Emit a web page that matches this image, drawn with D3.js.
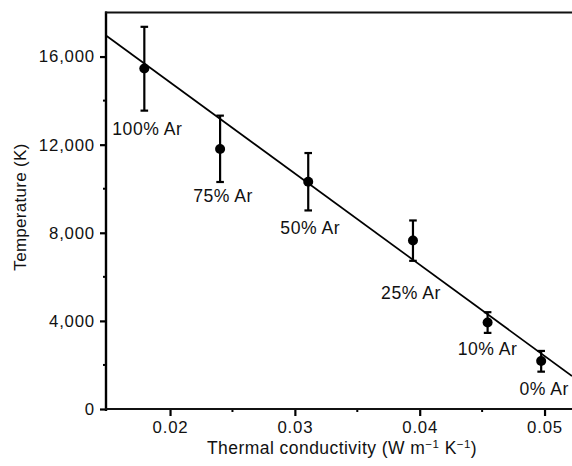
<!DOCTYPE html>
<html><head><meta charset="utf-8">
<script src="https://cdn.jsdelivr.net/npm/d3@7"></script>
<style>body{margin:0;background:#fff}svg{display:block;font-family:"Liberation Sans",Arial,Helvetica,sans-serif}</style>
</head><body>
<script>
const labels = ["100% Ar","75% Ar","50% Ar","25% Ar","10% Ar","0% Ar"];
const conductivity = [0.01794,0.02401,0.03107,0.03946,0.04544,0.04973];
const temperature = [15455,11805,10318,7650,3924,2182];
const errHigh = [17350,13318,11620,8559,4395,2636];
const errLow = [13545,10305,9014,6727,3455,1695];
const fitX = [0.01487,0.0522];
const fitT = [16955,1500];
const yTicks = [0,4000,8000,12000,16000];
const xTicks = [0.02,0.03,0.04,0.05];

const W=572,H=466;
const svg=d3.select("body").append("svg").attr("width",W).attr("height",H);
const x=d3.scaleLinear().domain([0.01487,0.0522]).range([106,572]);
const y=d3.scaleLinear().domain([0,18000]).range([409,12.5]);

// minor ticks
const yMinor=d3.range(2000,18000,4000);
svg.append("g").selectAll("line").data(yMinor).join("line")
  .attr("x1",103).attr("x2",106).attr("y1",d=>y(d)).attr("y2",d=>y(d))
  .attr("stroke","#000").attr("stroke-width",2);
const xMinor=[0.025,0.035,0.045];
svg.append("g").selectAll("line").data(xMinor).join("line")
  .attr("x1",d=>x(d)).attr("x2",d=>x(d)).attr("y1",409).attr("y2",412)
  .attr("stroke","#000").attr("stroke-width",2);

// axes
const yAxis=d3.axisLeft(y).tickValues(yTicks).tickFormat(d3.format(",")).tickSize(6).tickPadding(5);
const gy=svg.append("g").attr("transform","translate(106,0)").call(yAxis);
const xAxis=d3.axisBottom(x).tickValues(xTicks).tickFormat(d=>d.toFixed(2)).tickSize(7).tickPadding(4);
const gx=svg.append("g").attr("transform","translate(0,409)").call(xAxis);
[gx,gy].forEach(g=>{
  g.select(".domain").remove();
  g.selectAll(".tick line").attr("stroke","#000").attr("stroke-width",2.2);
  g.selectAll(".tick text").attr("fill","#111").style("font-size","16.8px")
   .style("letter-spacing","0.8px").style("font-family","'Liberation Sans',Arial,sans-serif");
});
gx.selectAll(".tick text").attr("dy","0.75em");
// frame lines
svg.append("line").attr("x1",106).attr("x2",106).attr("y1",11.5).attr("y2",411).attr("stroke","#000").attr("stroke-width",2.4);
svg.append("line").attr("x1",105).attr("x2",W).attr("y1",409).attr("y2",409).attr("stroke","#111").attr("stroke-width",2);
svg.append("line").attr("x1",105).attr("x2",W).attr("y1",12.5).attr("y2",12.5).attr("stroke","#111").attr("stroke-width",2);

// fit line
const line=d3.line().x(d=>x(d[0])).y(d=>y(d[1]));
svg.append("path").datum(fitX.map((v,i)=>[v,fitT[i]])).attr("d",line)
  .attr("fill","none").attr("stroke","#000").attr("stroke-width",1.7);

// error bars
const idx=d3.range(labels.length);
const eb=svg.append("g").attr("stroke","#000").attr("stroke-width",2.2);
eb.selectAll(".v").data(idx).join("line")
  .attr("x1",i=>x(conductivity[i])).attr("x2",i=>x(conductivity[i]))
  .attr("y1",i=>y(errHigh[i])).attr("y2",i=>y(errLow[i]));
eb.selectAll(".t").data(idx).join("line")
  .attr("x1",i=>x(conductivity[i])-3.8).attr("x2",i=>x(conductivity[i])+3.8)
  .attr("y1",i=>y(errHigh[i])).attr("y2",i=>y(errHigh[i]));
eb.selectAll(".b").data(idx).join("line")
  .attr("x1",i=>x(conductivity[i])-3.8).attr("x2",i=>x(conductivity[i])+3.8)
  .attr("y1",i=>y(errLow[i])).attr("y2",i=>y(errLow[i]));

// points
svg.append("g").selectAll("circle").data(idx).join("circle")
  .attr("cx",i=>x(conductivity[i])).attr("cy",i=>y(temperature[i])).attr("r",5).attr("fill","#000");

// labels
const labelDx=[3,3,2,-2,0,3];
const labelDy=[24,19.5,24,38,22,23];
svg.append("g").selectAll("text").data(idx).join("text")
  .attr("x",i=>x(conductivity[i])+labelDx[i]).attr("y",i=>y(errLow[i])+labelDy[i])
  .attr("text-anchor","middle").style("font-size","17.6px").style("letter-spacing","0.5px").attr("fill","#111")
  .text(i=>labels[i]);

// titles
svg.append("text").attr("transform","translate(26,207) rotate(-90)").attr("text-anchor","middle")
  .style("font-size","17px").style("letter-spacing","0.3px").attr("fill","#111").text("Temperature (K)");
const xt=svg.append("text").attr("x",342).attr("y",454).attr("text-anchor","middle")
  .style("font-size","17.5px").style("letter-spacing","0.45px").attr("fill","#111");
xt.append("tspan").text("Thermal conductivity (W m");
xt.append("tspan").attr("dy",-6).style("font-size","11.5px").text("−1");
xt.append("tspan").attr("dy",6).text(" K");
xt.append("tspan").attr("dy",-6).style("font-size","11.5px").text("−1");
xt.append("tspan").attr("dy",6).text(")");
</script>
</body></html>
